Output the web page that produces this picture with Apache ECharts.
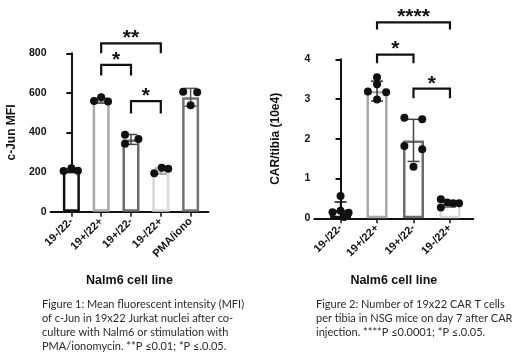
<!DOCTYPE html>
<html>
<head>
<meta charset="utf-8">
<style>
  html, body { margin: 0; padding: 0; background: #fff; }
  #chart { width: 520px; height: 363px; }
</style>
<script src="https://cdn.jsdelivr.net/npm/echarts@6/dist/echarts.min.js"></script>
</head>
<body>
<div id="chart"></div>
<script>
// Figure 1 - c-Jun MFI
const junCats = ['19-/22-', '19+/22+', '19+/22-', '19-/22+', 'PMA/iono'];
const junMean = [207, 560, 365, 205, 578];
const junSd = [8, 12, 25, 15, 45];
const junDots = [[205, 219, 207], [559, 578, 557], [389, 343, 367], [194, 222, 217], [606, 603, 537]];
const junJitter = [[-0.26, 0, 0.22], [-0.24, 0, 0.23], [-0.2, -0.2, 0.25], [-0.22, 0.03, 0.25], [-0.25, 0.22, 0]];
const junTicks = [0, 200, 400, 600, 800];
// brackets: [from, to, top, end]
const junBrackets = [[1, 3, 850, 800], [1, 2, 742, 688], [2, 3, 558, 496]];
const junStars = ['**', '*', '*'];

// Figure 2 - CAR/tibia
const carCats = ['19-/22-', '19+/22+', '19+/22-', '19-/22+'];
const carMean = [0.2, 3.2, 1.96, 0.36];
const carSd = [0.21, 0.25, 0.53, 0.08];
const carDots = [[0.56, 0.15, 0.19, 0.14, 0.03], [3.55, 3.37, 3.19, 3.17, 2.99], [2.53, 2.49, 1.82, 1.74, 1.3], [0.48, 0.27, 0.4, 0.38, 0.38]];
const carJitter = [[0, -0.22, 0, 0.22, 0.1], [0, 0, -0.25, 0.25, 0], [-0.25, 0.24, -0.25, 0.24, 0], [-0.25, -0.25, -0.07, 0.09, 0.25]];
const carTicks = [0, 1, 2, 3, 4];
const carBrackets = [[1, 3, 4.93, 4.75], [1, 2, 4.12, 3.9], [2, 3, 3.26, 3.02]];
const carStars = ['****', '*', '*'];

const junBorder = ['#111', '#a9a9a9', '#6c6c6c', '#d8d8d8', '#737373'];
const carBorder = ['#111', '#a9a9a9', '#6c6c6c', '#d8d8d8'];
const junErr = ['#111', '#555', '#444', '#999', '#555'];
const carErr = ['#111', '#333', '#444', '#777'];

const FONT = 'Liberation Sans';

function xAxisFor(grid, cats, min, max, gap) {
  return {
    gridIndex: grid, type: 'value', min: min, max: max,
    splitLine: { show: false },
    axisLine: { lineStyle: { color: '#111', width: 2 } },
    axisTick: { customValues: cats.map((c, i) => i), length: 5, lineStyle: { color: '#111', width: 1.5 } },
    axisLabel: {
      customValues: cats.map((c, i) => i), formatter: v => cats[v], rotate: 45, margin: 8,
      fontFamily: FONT, fontWeight: 'bold', fontSize: 11, color: '#111'
    },
    name: 'Nalm6 cell line', nameLocation: 'middle', nameGap: gap,
    nameTextStyle: { fontFamily: FONT, fontWeight: 'bold', fontSize: 12.5, color: '#111' }
  };
}

function yAxisFor(grid, ticks, name, gap) {
  return {
    gridIndex: grid, type: 'value', min: ticks[0], max: ticks[ticks.length - 1],
    interval: ticks[1] - ticks[0],
    splitLine: { show: false },
    axisLine: { show: true, lineStyle: { color: '#111', width: 2 } },
    axisTick: { show: true, length: 5, lineStyle: { color: '#111', width: 2 } },
    axisLabel: { fontFamily: FONT, fontWeight: 'bold', fontSize: 10.5, color: '#111', margin: 4 },
    name: name, nameLocation: 'middle', nameGap: gap,
    nameTextStyle: { fontFamily: FONT, fontWeight: 'bold', fontSize: 12, color: '#111' }
  };
}

function barSeries(idx, means, borders, width) {
  return {
    type: 'bar', xAxisIndex: idx, yAxisIndex: idx, barWidth: width, z: 2,
    data: means.map((m, i) => ({
      value: [i, m],
      itemStyle: { color: '#fff', borderColor: borders[i], borderWidth: 2.5 }
    }))
  };
}

function errSeries(idx, means, sds, colors) {
  return {
    type: 'custom', xAxisIndex: idx, yAxisIndex: idx, z: 3,
    data: means.map((m, i) => [i, m, sds[i]]),
    renderItem: (params, api) => {
      const i = api.value(0), m = api.value(1), s = api.value(2);
      const top = api.coord([i, m + s]);
      const bot = api.coord([i, Math.max(0, m - s)]);
      const st = { stroke: colors[params.dataIndex], lineWidth: 1.5 };
      return {
        type: 'group', children: [
          { type: 'line', shape: { x1: top[0], y1: top[1], x2: bot[0], y2: bot[1] }, style: st },
          { type: 'line', shape: { x1: top[0] - 6, y1: top[1], x2: top[0] + 6, y2: top[1] }, style: st },
          { type: 'line', shape: { x1: bot[0] - 6, y1: bot[1], x2: bot[0] + 6, y2: bot[1] }, style: st }
        ]
      };
    }
  };
}

function dotSeries(idx, dots, jitter) {
  const pts = [];
  dots.forEach((arr, i) => arr.forEach((v, k) => pts.push([i + jitter[i][k], v])));
  return {
    type: 'scatter', xAxisIndex: idx, yAxisIndex: idx, z: 4,
    symbolSize: 8, itemStyle: { color: '#111', opacity: 1 },
    data: pts
  };
}

function bracketSeries(idx, brackets, stars) {
  return {
    type: 'custom', xAxisIndex: idx, yAxisIndex: idx, z: 5, clip: false,
    data: brackets,
    renderItem: (params, api) => {
      const a = api.coord([api.value(0), api.value(3)]);
      const b = api.coord([api.value(0), api.value(2)]);
      const c = api.coord([api.value(1), api.value(2)]);
      const d = api.coord([api.value(1), api.value(3)]);
      return {
        type: 'group', children: [
          { type: 'polyline', shape: { points: [a, b, c, d] }, style: { stroke: '#111', lineWidth: 2.2, fill: null } },
          {
            type: 'text', x: (b[0] + c[0]) / 2, y: b[1] - 5,
            style: { text: stars[params.dataIndex], fill: '#111', font: 'bold 21px ' + FONT, align: 'center', verticalAlign: 'middle' }
          }
        ]
      };
    }
  };
}

const cap1 = 'Figure 1: Mean fluorescent intensity (MFI)\nof c-Jun in 19x22 Jurkat nuclei after co-\nculture with Nalm6 or stimulation with\nPMA/ionomycin. **P \u22640.01; *P \u2264.0.05.';
const cap2 = 'Figure 2: Number of 19x22 CAR T cells\nper tibia in NSG mice on day 7 after CAR\ninjection. ****P \u22640.0001; *P \u2264.0.05.';
const capStyle = { fontFamily: 'Lato', fontSize: 11, fontWeight: 'normal', lineHeight: 14, color: '#2a2a2a' };

const chart = echarts.init(document.getElementById('chart'), null, { renderer: 'canvas' });
chart.setOption({
  animation: false,
  backgroundColor: '#fff',
  title: [
    { text: cap1, left: 42, top: 297, padding: 0, textStyle: capStyle },
    { text: cap2, left: 316, top: 297, padding: 0, textStyle: capStyle }
  ],
  grid: [
    { left: 50.5, top: 53.3, width: 158, height: 158.4 },
    { left: 314.3, top: 59.3, width: 159, height: 159 }
  ],
  xAxis: [
    xAxisFor(0, junCats, -0.7, 4.6, 62),
    xAxisFor(1, carCats, -0.72, 3.64, 56)
  ],
  yAxis: [
    yAxisFor(0, junTicks, 'c-Jun MFI', 33),
    yAxisFor(1, carTicks, 'CAR/tibia (10e4)', 33)
  ],
  series: [
    barSeries(0, junMean, junBorder, 17),
    errSeries(0, junMean, junSd, junErr),
    dotSeries(0, junDots, junJitter),
    bracketSeries(0, junBrackets, junStars),
    barSeries(1, carMean, carBorder, 21),
    errSeries(1, carMean, carSd, carErr),
    dotSeries(1, carDots, carJitter),
    bracketSeries(1, carBrackets, carStars)
  ]
});
</script>
</body>
</html>
